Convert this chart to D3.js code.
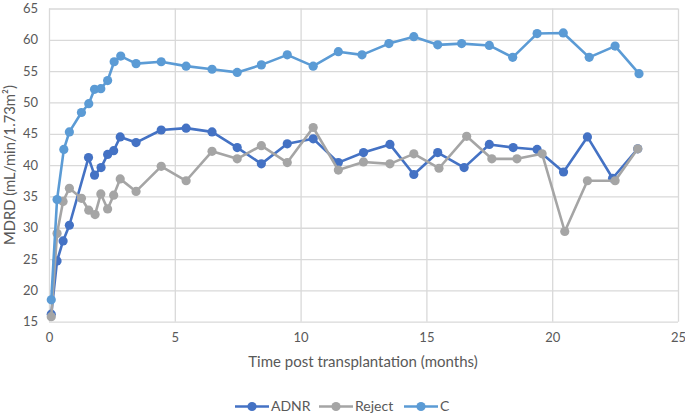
<!DOCTYPE html>
<html>
<head>
<meta charset="utf-8">
<script src="https://cdn.jsdelivr.net/npm/d3@7"></script>
<style>
  body { margin: 0; background: #fff; }
  text { font-family: Lato, "Open Sans", sans-serif; fill: #595959; }
</style>
</head>
<body>
<div id="chart"></div>
<script>
const adnrX = [0.09, 0.32, 0.56, 0.81, 1.57, 1.81, 2.07, 2.33, 2.57, 2.83, 3.46, 4.46, 5.45, 6.48, 7.48, 8.44, 9.47, 10.5, 11.5, 12.5, 13.55, 14.5, 15.45, 16.5, 17.5, 18.45, 19.4, 20.45, 21.4, 22.4, 23.4];
const adnrY = [16.2, 24.7, 27.9, 30.4, 41.2, 38.4, 39.6, 41.7, 42.3, 44.5, 43.6, 45.6, 45.9, 45.3, 42.8, 40.2, 43.4, 44.2, 40.4, 42.0, 43.3, 38.5, 42.0, 39.6, 43.3, 42.8, 42.5, 38.9, 44.5, 37.9, 42.6];

const rejectX = [0.09, 0.32, 0.56, 0.81, 1.29, 1.58, 1.83, 2.06, 2.33, 2.57, 2.83, 3.46, 4.46, 5.45, 6.48, 7.48, 8.44, 9.47, 10.5, 11.5, 12.5, 13.55, 14.5, 15.5, 16.6, 17.6, 18.6, 19.6, 20.5, 21.4, 22.5, 23.4];
const rejectY = [15.8, 29.1, 34.2, 36.3, 34.7, 32.8, 32.1, 35.4, 33.0, 35.2, 37.8, 35.8, 39.8, 37.5, 42.2, 41.0, 43.1, 40.4, 46.0, 39.2, 40.5, 40.2, 41.8, 39.5, 44.6, 41.0, 41.0, 41.8, 29.4, 37.5, 37.5, 42.6];

const cX = [0.09, 0.32, 0.59, 0.81, 1.29, 1.58, 1.81, 2.06, 2.33, 2.59, 2.85, 3.46, 4.46, 5.45, 6.48, 7.48, 8.44, 9.47, 10.5, 11.5, 12.44, 13.51, 14.5, 15.45, 16.4, 17.5, 18.43, 19.4, 20.44, 21.47, 22.5, 23.45];
const cY = [18.5, 34.5, 42.5, 45.3, 48.4, 49.8, 52.1, 52.2, 53.5, 56.5, 57.4, 56.2, 56.5, 55.8, 55.3, 54.8, 56.0, 57.6, 55.8, 58.1, 57.6, 59.4, 60.5, 59.2, 59.4, 59.1, 57.2, 61.0, 61.1, 57.2, 59.0, 54.6];

const seriesNames = ['ADNR', 'Reject', 'C'];
const colors = ['#4472C4', '#A5A5A5', '#5B9BD5'];
const xTicks = [0, 5, 10, 15, 20, 25];
const yTicks = [15, 20, 25, 30, 35, 40, 45, 50, 55, 60, 65];

const series = [
    { name: seriesNames[0], color: colors[0], pts: adnrX.map((x, i) => [x, adnrY[i]]) },
    { name: seriesNames[1], color: colors[1], pts: rejectX.map((x, i) => [x, rejectY[i]]) },
    { name: seriesNames[2], color: colors[2], pts: cX.map((x, i) => [x, cY[i]]) }
];

const width = 685;
const height = 413;

const svg = d3.select('#chart')
    .append('svg')
    .attr('width', width)
    .attr('height', height);

const x = d3.scaleLinear().domain([0, 25]).range([49, 678]);
const y = d3.scaleLinear().domain([15, 65]).range([321.7, 8.5]);

// grid
svg.append('g')
    .attr('transform', `translate(${x(0)}, 0)`)
    .call(d3.axisLeft(y).tickValues(yTicks).tickSize(-(x(25) - x(0))).tickFormat(''))
    .call(g => g.select('.domain').remove())
    .selectAll('line').attr('stroke', '#d9d9d9').attr('stroke-width', 1.3);

svg.append('g')
    .attr('transform', `translate(0, ${y(15)})`)
    .call(d3.axisBottom(x).tickValues(xTicks).tickSize(-(y(15) - y(65))).tickFormat(''))
    .call(g => g.select('.domain').remove())
    .selectAll('line').attr('stroke', '#d9d9d9').attr('stroke-width', 1.3);

// tick labels
svg.append('g')
    .attr('transform', `translate(${x(0)}, 0)`)
    .call(d3.axisLeft(y).tickValues(yTicks).tickSize(0).tickPadding(11))
    .call(g => g.select('.domain').remove())
    .selectAll('text')
    .attr('font-size', '13px')
    .attr('fill', '#595959');

svg.append('g')
    .attr('transform', `translate(0, ${y(15)})`)
    .call(d3.axisBottom(x).tickValues(xTicks).tickSize(0).tickPadding(11))
    .call(g => g.select('.domain').remove())
    .selectAll('text')
    .attr('font-size', '13px')
    .attr('fill', '#595959');

svg.selectAll('.tick text').style('font-family', 'Lato, "Open Sans", sans-serif');

// axis titles
svg.append('text')
    .attr('x', 363)
    .attr('y', 367)
    .attr('text-anchor', 'middle')
    .attr('font-size', '15px')
    .text('Time post transplantation (months)');

svg.append('text')
    .attr('transform', `translate(15, ${(y(15) + y(65)) / 2}) rotate(-90)`)
    .attr('text-anchor', 'middle')
    .attr('font-size', '14.8px')
    .text('MDRD (mL/min/1.73m²)');

// lines and markers
const line = d3.line().x(d => x(d[0])).y(d => y(d[1]));

series.forEach(s => {
    const g = svg.append('g');
    g.append('path')
        .datum(s.pts)
        .attr('fill', 'none')
        .attr('stroke', s.color)
        .attr('stroke-width', 2.6)
        .attr('stroke-linejoin', 'round')
        .attr('d', line);
    g.selectAll('circle')
        .data(s.pts)
        .join('circle')
        .attr('cx', d => x(d[0]))
        .attr('cy', d => y(d[1]))
        .attr('r', 4.6)
        .attr('fill', s.color);
});

// legend
const legendX = [235, 319, 404];
const legend = svg.append('g').attr('transform', 'translate(0, 406.5)');
series.forEach((s, i) => {
    const g = legend.append('g').attr('transform', `translate(${legendX[i]}, 0)`);
    g.append('line')
        .attr('x1', 0).attr('x2', 34)
        .attr('stroke', s.color)
        .attr('stroke-width', 2.6);
    g.append('circle')
        .attr('cx', 17)
        .attr('r', 4.6)
        .attr('fill', s.color);
    g.append('text')
        .attr('x', 36)
        .attr('dy', '0.35em')
        .attr('font-size', '14px')
        .text(s.name);
});
</script>
</body>
</html>
